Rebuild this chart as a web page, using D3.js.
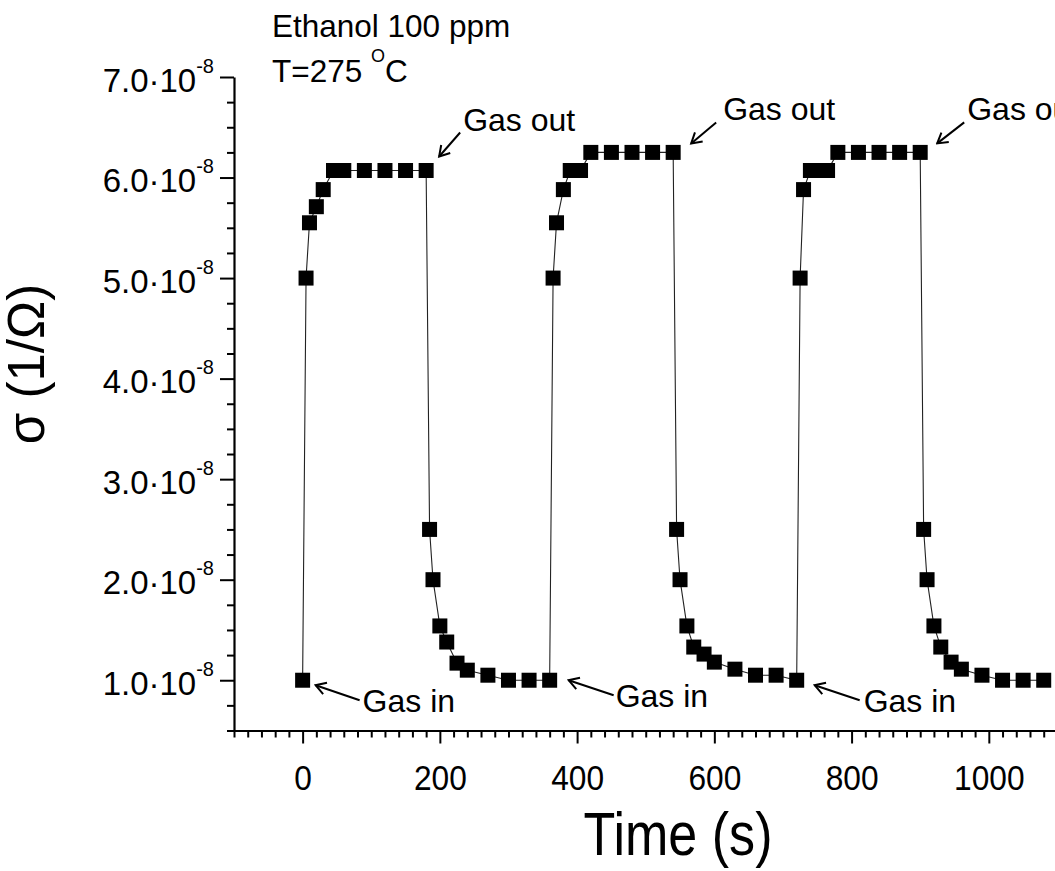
<!DOCTYPE html>
<html lang="en">
<head>
<meta charset="UTF-8">
<title>Ethanol 100 ppm</title>
<script src="https://d3js.org/d3.v7.min.js"></script>
<style>
  body { margin: 0; background: #fff; }
  svg { display: block; font-family: Arial, "Liberation Sans", sans-serif; }
</style>
</head>
<body>
<svg id="main" width="1055" height="871"></svg>
<script>
// time (s) and conductance sigma (1/Ohm), three gas in / gas out cycles
const time = [
  0, 5, 10, 20, 30, 45, 60, 90, 120, 150, 180,
  185, 190, 200, 210, 225, 240, 270, 300, 330, 360,
  365, 370, 380, 390, 405, 420, 450, 480, 510, 540,
  545, 550, 560, 570, 585, 600, 630, 660, 690, 720,
  725, 730, 740, 750, 765, 780, 810, 840, 870, 900,
  905, 910, 920, 930, 945, 960, 990, 1020, 1050, 1080
];
const sigma = [
  1.0e-8, 5.0e-8, 5.55e-8, 5.71e-8, 5.88e-8, 6.07e-8, 6.07e-8, 6.07e-8, 6.07e-8, 6.07e-8, 6.07e-8,
  2.5e-8, 2.0e-8, 1.54e-8, 1.38e-8, 1.17e-8, 1.10e-8, 1.05e-8, 1.0e-8, 1.0e-8, 1.0e-8,
  5.0e-8, 5.55e-8, 5.88e-8, 6.07e-8, 6.07e-8, 6.25e-8, 6.25e-8, 6.25e-8, 6.25e-8, 6.25e-8,
  2.5e-8, 2.0e-8, 1.54e-8, 1.33e-8, 1.26e-8, 1.18e-8, 1.11e-8, 1.05e-8, 1.05e-8, 1.0e-8,
  5.0e-8, 5.88e-8, 6.07e-8, 6.07e-8, 6.07e-8, 6.25e-8, 6.25e-8, 6.25e-8, 6.25e-8, 6.25e-8,
  2.5e-8, 2.0e-8, 1.54e-8, 1.33e-8, 1.18e-8, 1.11e-8, 1.05e-8, 1.0e-8, 1.0e-8, 1.0e-8
];
const xTicks = [0, 200, 400, 600, 800, 1000];
const yTicks = [1e-8, 2e-8, 3e-8, 4e-8, 5e-8, 6e-8, 7e-8];
const yTickLabels = ["1.0", "2.0", "3.0", "4.0", "5.0", "6.0", "7.0"];
const gasOutTimes = [180, 540, 900];
const gasInTimes = [0, 360, 720];

const svg = d3.select("svg#main");

const x = d3.scaleLinear().domain([-100, 1100]).range([234, 234 + 1200 * 0.6862]);
const y = d3.scaleLinear().domain([0.5e-8, 7.0e-8]).range([730.5, 77]);

const data = time.map((t, i) => ({t: t, v: sigma[i]}));

// line
const line = d3.line().x(d => x(d.t)).y(d => y(d.v));
svg.append("path")
  .datum(data)
  .attr("d", line)
  .attr("fill", "none")
  .attr("stroke", "#222")
  .attr("stroke-width", 1.1);

// square markers
svg.selectAll("rect.pt")
  .data(data)
  .enter()
  .append("rect")
  .attr("class", "pt")
  .attr("x", d => x(d.t) - 7.5)
  .attr("y", d => y(d.v) - 7.5)
  .attr("width", 15)
  .attr("height", 15)
  .attr("fill", "#000");

// x axis
const xMinor = d3.range(-100, 1101, 20).filter(t => t % 200 !== 0);
const gxMinor = svg.append("g").attr("transform", "translate(0,730.5)")
  .call(d3.axisBottom(x).tickValues(xMinor).tickSize(7).tickFormat(""));
gxMinor.select(".domain").remove();
const gx = svg.append("g").attr("transform", "translate(0,730.5)")
  .call(d3.axisBottom(x).tickValues(xTicks).tickSize(13).tickSizeOuter(0).tickFormat(d3.format("d")));
svg.selectAll("g.tick line").attr("stroke-width", 2);
gx.select(".domain").attr("stroke-width", 2.2);
gx.selectAll("text")
  .attr("x", 0).attr("y", 0).attr("dy", 0)
  .attr("font-size", 36)
  .attr("fill", "#000")
  .attr("transform", "translate(0,59) scale(0.88,1)");

// y axis
const yMinor = d3.range(0, 27).map(i => 0.5e-8 + i * 0.25e-8).filter(v => Math.abs(v / 1e-8 - Math.round(v / 1e-8)) > 0.01);
const gyMinor = svg.append("g").attr("transform", "translate(234,0)")
  .call(d3.axisLeft(y).tickValues(yMinor).tickSize(7).tickFormat(""));
gyMinor.select(".domain").remove();
gyMinor.selectAll("line").attr("stroke-width", 2);
const gy = svg.append("g").attr("transform", "translate(234,0)")
  .call(d3.axisLeft(y).tickValues(yTicks).tickSize(14).tickSizeOuter(0).tickFormat(""));
gy.select(".domain").attr("stroke-width", 2.2);
gy.selectAll("line").attr("stroke-width", 2);
gy.selectAll("g.tick text").remove();
gy.selectAll("g.tick").each(function(d, i) {
  const t = d3.select(this).append("text")
    .attr("x", -20).attr("y", 14)
    .attr("text-anchor", "end")
    .attr("fill", "#000")
    .attr("font-size", 33);
  t.append("tspan").text(yTickLabels[i] + "\u00B710");
  t.append("tspan").attr("font-size", 20).attr("dy", -19).text("-8");
});

// axis titles
svg.append("text")
  .attr("transform", "translate(678,855) scale(0.84,1)")
  .attr("text-anchor", "middle")
  .attr("font-size", 62)
  .text("Time (s)");
svg.append("text")
  .attr("transform", "translate(44,364) rotate(-90)")
  .attr("text-anchor", "middle")
  .attr("font-size", 51)
  .text("\u03C3 (1/\u03A9)");

// condition labels
svg.append("text").attr("x", 272).attr("y", 37).attr("font-size", 31.5).text("Ethanol 100 ppm");
const tl = svg.append("text").attr("x", 272).attr("y", 82).attr("font-size", 31.5);
tl.append("tspan").text("T=275 ");
tl.append("tspan").attr("font-size", 18).attr("dy", -20).text("O");
tl.append("tspan").attr("dy", 20).text("C");

// arrow marker
svg.append("defs").append("marker")
  .attr("id", "head")
  .attr("viewBox", "-12 -8 14 16")
  .attr("refX", 0).attr("refY", 0)
  .attr("markerWidth", 14).attr("markerHeight", 16)
  .attr("markerUnits", "userSpaceOnUse")
  .attr("orient", "auto")
  .append("path")
  .attr("d", "M-10,-6L0,0L-10,6")
  .attr("fill", "none")
  .attr("stroke", "#000")
  .attr("stroke-width", 2);

// annotations: offsets of arrow head, arrow tail, text from the data point
const outOffsets = [[13, -14, 34, -38, 37, -40], [18, -9, 43, -30, 50, -32], [17, -9, 44, -30, 47, -32]];
const inOffsets = [[13, 5, 57, 20, 60, 32], [19, 0, 64, 15, 66, 27], [18, 5, 63, 20, 67, 32]];

function annotate(times, offsets, label) {
  times.forEach((t, i) => {
    const d = data.find(p => p.t === t);
    const px = x(d.t), py = y(d.v);
    const o = offsets[i];
    svg.append("line")
      .attr("x1", px + o[2]).attr("y1", py + o[3])
      .attr("x2", px + o[0]).attr("y2", py + o[1])
      .attr("stroke", "#000").attr("stroke-width", 2)
      .attr("marker-end", "url(#head)");
    svg.append("text")
      .attr("x", px + o[4]).attr("y", py + o[5])
      .attr("font-size", 32)
      .text(label);
  });
}
annotate(gasOutTimes, outOffsets, "Gas out");
annotate(gasInTimes, inOffsets, "Gas in");
</script>
</body>
</html>
